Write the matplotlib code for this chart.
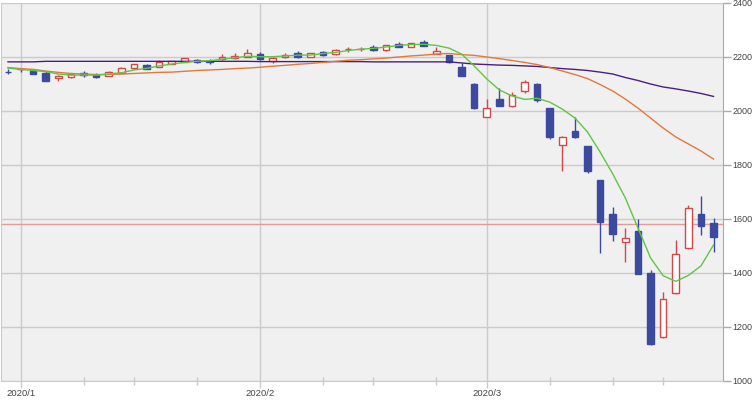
import matplotlib
matplotlib.use("Agg")
import matplotlib.pyplot as plt
import numpy as np

# Données : 57 séances (30/12/2019 -> 27/03/2020)
opens = [2145, 2155, 2148, 2140, 2121, 2126, 2142, 2133, 2130, 2141,
         2158, 2171, 2164, 2175, 2183, 2189, 2184, 2191, 2195, 2200,
         2210, 2186, 2199, 2214, 2201, 2220, 2211, 2228, 2229, 2238,
         2226, 2248, 2238, 2257, 2212, 2207, 2164, 2100, 1979, 2043,
         2019, 2075, 2101, 2010, 1874, 1927, 1870, 1744, 1619, 1514,
         1556, 1400, 1162, 1325, 1491, 1619, 1586]
closes = [2144, 2154, 2138, 2112, 2131, 2136, 2135, 2126, 2143, 2158,
          2173, 2157, 2183, 2185, 2195, 2181, 2183, 2201, 2205, 2215,
          2191, 2195, 2207, 2199, 2214, 2207, 2226, 2229, 2230, 2226,
          2244, 2238, 2251, 2242, 2222, 2180, 2131, 2012, 2012, 2017,
          2058, 2107, 2039, 1904, 1904, 1903, 1779, 1590, 1543, 1528,
          1398, 1138, 1303, 1469, 1640, 1575, 1534]
highs = [2154, 2160, 2152, 2149, 2133, 2138, 2149, 2139, 2148, 2164,
         2175, 2175, 2189, 2187, 2197, 2191, 2191, 2210, 2213, 2229,
         2217, 2199, 2213, 2222, 2216, 2222, 2228, 2236, 2238, 2244,
         2246, 2256, 2253, 2262, 2238, 2209, 2177, 2102, 2044, 2084,
         2070, 2114, 2103, 2012, 1906, 1977, 1872, 1746, 1646, 1565,
         1600, 1411, 1331, 1522, 1652, 1685, 1603]
lows = [2136, 2145, 2136, 2110, 2112, 2124, 2125, 2123, 2128, 2139,
        2156, 2156, 2162, 2173, 2181, 2179, 2174, 2189, 2193, 2199,
        2189, 2179, 2197, 2197, 2199, 2205, 2209, 2220, 2222, 2224,
        2224, 2236, 2236, 2240, 2210, 2178, 2129, 2008, 1977, 2020,
        2015, 2066, 2034, 1897, 1779, 1901, 1769, 1475, 1519, 1442,
        1396, 1134, 1160, 1323, 1489, 1541, 1479]

# moyennes mobiles
ma_short = [2159, 2154, 2150, 2146, 2137, 2133, 2133, 2133, 2137, 2142,
            2152, 2158, 2167, 2174, 2180, 2184, 2186, 2192, 2197, 2203,
            2201, 2201, 2204, 2207, 2207, 2213, 2217, 2224, 2229, 2232,
            2237, 2243, 2246, 2247, 2243, 2233, 2211, 2167, 2119, 2078,
            2056, 2043, 2047, 2033, 2007, 1974, 1922, 1848, 1767, 1678,
            1567, 1456, 1390, 1369, 1391, 1426, 1504]
ma_mid = [2161, 2157, 2154, 2148, 2143, 2139, 2137, 2135, 2135, 2137,
          2139, 2141, 2143, 2144, 2147, 2150, 2152, 2154, 2157, 2159,
          2162, 2166, 2169, 2173, 2176, 2180, 2184, 2188, 2190, 2193,
          2196, 2200, 2204, 2207, 2211, 2213, 2209, 2206, 2200, 2194,
          2187, 2180, 2172, 2161, 2148, 2135, 2120, 2098, 2074, 2044,
          2011, 1974, 1937, 1904, 1878, 1852, 1822]
ma_long = [2182, 2182, 2182, 2184, 2184, 2184, 2184, 2184, 2184, 2184,
           2184, 2184, 2184, 2184, 2184, 2184, 2184, 2184, 2184, 2184,
           2183, 2183, 2183, 2183, 2183, 2183, 2183, 2183, 2183, 2182,
           2182, 2182, 2182, 2182, 2182, 2182, 2178, 2174, 2172, 2170,
           2169, 2167, 2165, 2161, 2157, 2154, 2150, 2144, 2137, 2124,
           2113, 2100, 2089, 2082, 2074, 2065, 2054]
ref_level = 1581

month_ticks = [1, 20, 38]
month_labels = ["2020/1", "2020/2", "2020/3"]
week_ticks = [6, 10, 15, 25, 29, 34, 43, 48, 52]
y_ticks = [1000, 1200, 1400, 1600, 1800, 2000, 2200, 2400]

UP_EDGE = "#d04848"
DOWN_COL = "#3b4a9e"
GRID_COL = "#cbcbcb"

plt.rcParams["font.family"] = ["Liberation Sans", "DejaVu Sans"]

fig = plt.figure(figsize=(7.55, 4.0), dpi=100)
ax = fig.add_axes([0.0013, 19 / 400, 722 / 755, 378 / 400])
ax.set_facecolor("#f0f0f0")

x = np.arange(len(opens))
o = np.array(opens)
c = np.array(closes)
up = c >= o
dn = ~up

# ligne de référence horizontale
ax.axhline(ref_level, color="#e39a9a", lw=1, zorder=1.5)

# mèches
ax.vlines(x[up], np.array(lows)[up], np.array(highs)[up], color=UP_EDGE, lw=1, zorder=2)
ax.vlines(x[dn], np.array(lows)[dn], np.array(highs)[dn], color=DOWN_COL, lw=1, zorder=2)

# corps
w = 0.52
ax.bar(x[up], (c - o)[up], bottom=o[up], width=w, facecolor="white",
       edgecolor=UP_EDGE, lw=1, zorder=3)
ax.bar(x[dn], (o - c)[dn], bottom=c[dn], width=w, facecolor=DOWN_COL,
       edgecolor=DOWN_COL, lw=1, zorder=3)

# moyennes mobiles
ax.plot(x, ma_long, color="#4b1f7d", lw=1, zorder=4)
ax.plot(x, ma_mid, color="#e07a3c", lw=1, zorder=4)
ax.plot(x, ma_short, color="#62c444", lw=1, zorder=4)

ax.set_xlim(-0.555, 56.75)
ax.set_ylim(1000, 2400)

ax.yaxis.tick_right()
ax.set_yticks(y_ticks)
ax.set_xticks(month_ticks)
ax.set_xticklabels(month_labels)
ax.set_xticks(week_ticks, minor=True)

ax.grid(True, which="major", color=GRID_COL, lw=1, zorder=0)
ax.set_axisbelow(True)

ax.tick_params(axis="y", which="major", direction="out", length=6, width=1,
               color="#aaaaaa", labelsize=6.5, labelcolor="#444444", pad=1)
ax.tick_params(axis="x", which="major", direction="out", length=5, width=1,
               color=GRID_COL, labelsize=6.8, labelcolor="#444444", pad=0.5)
ax.tick_params(axis="x", which="minor", direction="inout", length=6, width=1,
               color=GRID_COL)

for side in ["left", "top", "bottom"]:
    ax.spines[side].set_color(GRID_COL)
ax.spines["right"].set_color("#aaaaaa")

fig.savefig("out.png", dpi=100)
